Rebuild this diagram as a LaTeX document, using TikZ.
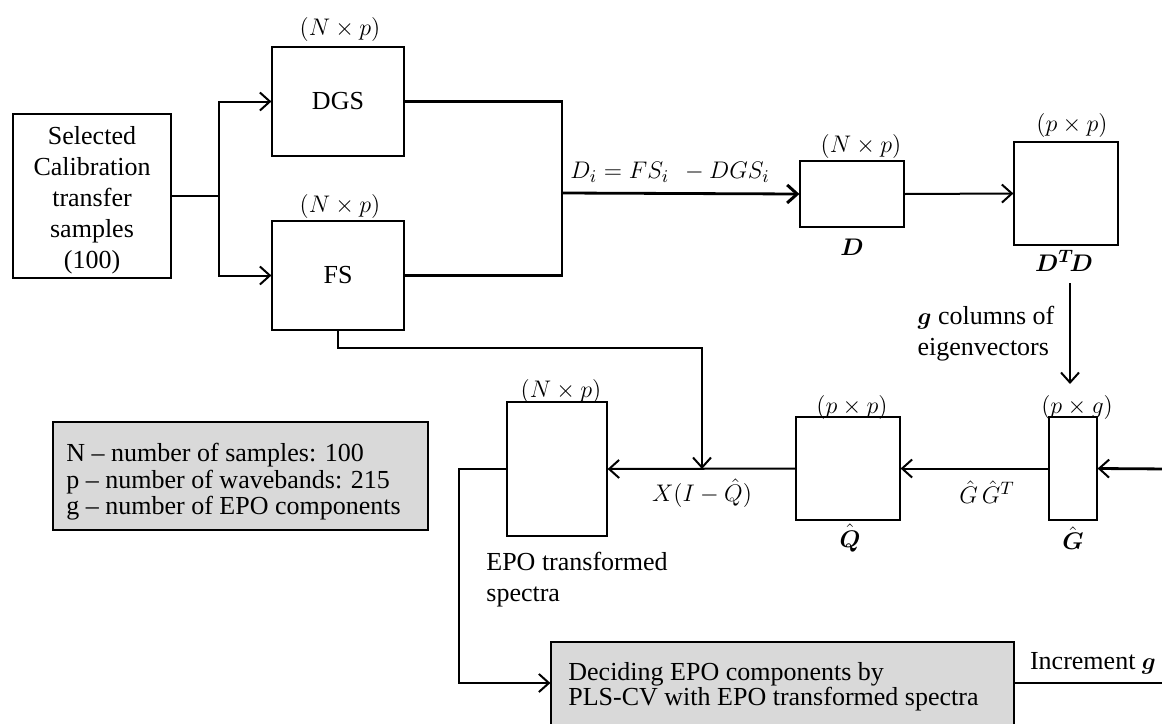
\documentclass[tikz,border=0pt]{standalone}
\usepackage{amsmath}
\usepackage{fontspec}
\setmainfont{Liberation Serif}
\usetikzlibrary{arrows.meta}
\begin{document}
\begin{tikzpicture}[x=0.5pt,y=-0.5pt,
  font=\fontsize{13}{15.5}\selectfont,
  box/.style={draw, line width=0.6pt, inner sep=0pt, fill=white},
  graybox/.style={draw, line width=0.6pt, inner sep=0pt, fill=black!15},
  lbl/.style={inner sep=1pt},
  conn/.style={line width=1pt},
  thickconn/.style={line width=1.4pt},
  arr/.style={-{Straight Barb[length=5pt,width=9pt,line width=1pt]}},
  tarr/.style={-{Straight Barb[length=5pt,width=9pt,line width=1.5pt]}}
]
\useasboundingbox (0,0) rectangle (1162,723);
\clip (0,0) rectangle (1162,723);

% boxes
\node[box, minimum width=79pt, minimum height=82pt] (sel) at (92,196) {};
\node[align=center, inner sep=0pt] (seltxt) at (92,200)
  {Selected\\Calibration\\transfer\\samples\\(100)};
\node[box, minimum width=66pt, minimum height=54.5pt] (dgs) at (338,101.5) {DGS};
\node[box, minimum width=66pt, minimum height=54.5pt] (fs) at (338,275.5) {FS};
\node[box, minimum width=52pt, minimum height=33pt] (D) at (852,194) {};
\node[box, minimum width=52pt, minimum height=51.5pt] (dtd) at (1066,193.5) {};
\node[box, minimum width=24pt, minimum height=51.5pt] (G) at (1073,468.5) {};
\node[box, minimum width=52pt, minimum height=51.5pt] (Q) at (848,468.5) {};
\node[box, minimum width=50pt, minimum height=67pt] (epo) at (557,469) {};
\node[graybox, minimum width=231.5pt, minimum height=50pt] (dec) at (782.5,692) {};
\node[anchor=west, align=left, inner sep=0pt, font=\fontsize{13}{12.5}\selectfont] (dectxt) at (568,687)
  {Deciding EPO components by\\PLS-CV with EPO transformed spectra};
\node[graybox, minimum width=187.5pt, minimum height=54pt] (leg) at (240.5,476) {};
\node[anchor=west, align=left, inner sep=0pt, font=\fontsize{13}{13.2}\selectfont] (legtxt) at (66,482)
  {N -- number of samples: 100\\p -- number of wavebands: 215\\g -- number of EPO components};

% dimension labels
\node[lbl] (ldgs) at (340,29) {$(N\times p)$};
\node[lbl] (lfs) at (340,206) {$(N\times p)$};
\node[lbl] (lD) at (861,146) {$(N\times p)$};
\node[lbl] (ldtd) at (1072,125) {$(p\times p)$};
\node[lbl] (lQ) at (852,407) {$(p\times p)$};
\node[lbl] (lG) at (1077,407) {$(p\times g)$};
\node[lbl] (lepo) at (561,391) {$(N\times p)$};

% names below boxes
\node[lbl] (nD) at (852,247) {$\boldsymbol{D}$};
\node[lbl] (ndtd) at (1064,261) {$\boldsymbol{D^{T}\!D}$};
\node[lbl] (nQ) at (850,538) {$\hat{\boldsymbol{Q}}$};
\node[lbl] (nG) at (1073,538) {$\hat{\boldsymbol{G}}$};
\node[anchor=west, align=left, inner sep=0pt] (nepo) at (486,580) {EPO transformed\\spectra};

% coordinates
\coordinate (j1) at (219,196);
\coordinate (m) at (562,193);
\coordinate (e1) at (1070,283);
\coordinate (e2) at (1070,384);
\coordinate (r1) at (1170,469);
\coordinate (r2) at (1170,683);
\coordinate (k) at (702,469);
\coordinate (fb) at (702,348);

% connectors
\draw[conn] (sel.east) -- (j1);
\draw[conn, arr] (j1) |- (dgs.west);
\draw[conn, arr] (j1) |- (fs.west);
\draw[thickconn] (dgs.east) -| (m) |- (fs.east);
\draw[thickconn, tarr] (m) -- (D.west);
\node[lbl] (dilab) at (670,172) {$D_i = FS_i\;\, - DGS_i$};
\draw[conn, arr] (D.east) -- (dtd.west);
\draw[conn, arr] (e1) -- node[left=4pt, align=left] {$\boldsymbol{g}$ columns of\\eigenvectors} (e2);
\draw[thickconn, arr] (r1) -- (G.east);
\draw[conn, arr] (G.west) -- (Q.east);
\node[lbl] (gglab) at (987,492) {$\hat{G}\,\hat{G}^{T}$};
\draw[conn, arr] (Q.west) -- (epo.east);
\node[lbl] (xlab) at (702,493) {$X(I-\hat{Q})$};
\draw[thickconn, arr] (fs.south) |- (fb) -- (k);
\draw[conn, arr] (epo.west) -- ++(-47,0) |- (dec.west |- r2);
\draw[thickconn] (dec.east |- r2) -- (r2);
\node[lbl] (inclab) at (1093,663) {Increment $\boldsymbol{g}$};
\end{tikzpicture}
\end{document}
